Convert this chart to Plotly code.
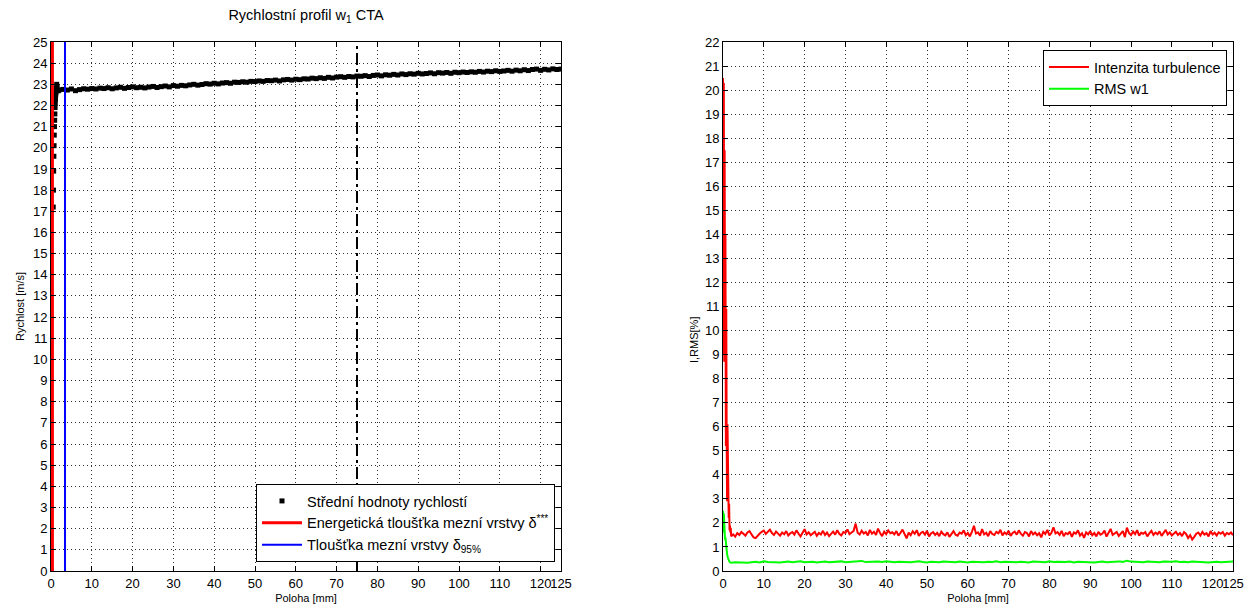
import numpy as np
import plotly.graph_objects as go

# ---------------- velocity profile (left panel) ----------------
# positions close to the wall [mm] and measured mean velocity [m/s]
pos_wall = [0.0, 0.02, 0.55, 0.6, 0.65, 0.7, 0.75, 0.8, 0.85, 0.9, 0.95,
            1.0, 1.05, 1.1, 1.15, 1.2, 1.3, 1.4, 1.5, 1.6, 1.8]
vel_wall = [0.0, 12.0, 17.2, 18.0, 18.9, 19.6, 20.1, 20.6, 21.0, 21.3, 21.6,
            21.9, 22.1, 22.3, 22.5, 22.6, 22.8, 23.0, 22.9, 22.7, 22.7]

# outer region, 1 mm step from 2 mm to 125 mm
pos_outer = np.arange(2, 126, 1)
vel_outer = [
    22.74, 22.76, 22.73, 22.78, 22.70, 22.75, 22.79, 22.77, 22.80, 22.78,
    22.82, 22.80, 22.84, 22.79, 22.83, 22.86, 22.81, 22.85, 22.88, 22.84,
    22.86, 22.83, 22.87, 22.90, 22.85, 22.89, 22.92, 22.88, 22.94, 22.91,
    22.95, 22.93, 22.97, 23.00, 22.96, 22.99, 23.03, 23.01, 23.05, 23.02,
    23.06, 23.08, 23.05, 23.10, 23.09, 23.12, 23.10, 23.14, 23.13, 23.16,
    23.14, 23.18, 23.17, 23.20, 23.16, 23.21, 23.23, 23.20, 23.24, 23.22,
    23.26, 23.25, 23.29, 23.27, 23.31, 23.28, 23.33, 23.30, 23.34, 23.36,
    23.33, 23.37, 23.35, 23.39, 23.38, 23.41, 23.37, 23.42, 23.44, 23.40,
    23.45, 23.43, 23.47, 23.44, 23.49, 23.46, 23.50, 23.48, 23.52, 23.49,
    23.51, 23.54, 23.50, 23.55, 23.53, 23.56, 23.52, 23.57, 23.55, 23.58,
    23.56, 23.59, 23.57, 23.61, 23.58, 23.62, 23.60, 23.64, 23.61, 23.63,
    23.66, 23.62, 23.67, 23.64, 23.69, 23.65, 23.70, 23.72, 23.66, 23.71,
    23.68, 23.73, 23.70, 23.72,
]

delta_energy = 0.35   # energy thickness of the boundary layer [mm]
delta_95 = 3.43       # boundary layer thickness delta_95% [mm]
x_marker = 75.0       # dash-dot reference position [mm]

# ---------------- turbulence (right panel) ----------------
pos_ti_wall = [0.0, 0.1, 0.2, 0.3, 0.4, 0.5, 0.6, 0.7, 0.8, 0.9,
               1.0, 1.1, 1.2, 1.3, 1.4, 1.5, 1.6, 1.7, 1.8, 1.9]
ti_wall = [20.5, 9.0, 20.3, 8.7, 17.5, 10.2, 14.0, 5.2, 10.9, 5.4,
           2.9, 6.1, 3.1, 3.7, 2.2, 2.8, 1.7, 1.9, 1.6, 1.8]

pos_ti_outer = np.arange(2.0, 125.25, 0.5)
ti_outer = [
    1.45, 1.52, 1.43, 1.58, 1.50, 1.62, 1.55, 1.47, 1.60, 1.66, 1.52, 1.40, 1.37, 1.49, 1.56, 1.63, 1.68, 1.54, 1.61, 1.72,
    1.58, 1.50, 1.64, 1.55, 1.47, 1.60, 1.53, 1.66, 1.48, 1.57, 1.62, 1.51, 1.69, 1.56, 1.44, 1.59, 1.74, 1.52, 1.61, 1.49,
    1.55, 1.63, 1.46, 1.58, 1.52, 1.67, 1.50, 1.60, 1.45, 1.57, 1.64, 1.51, 1.70, 1.55, 1.48, 1.62, 1.58, 1.73, 1.53, 1.60,
    1.66, 1.97, 1.59, 1.52, 1.68, 1.56, 1.62, 1.48, 1.71, 1.55, 1.63, 1.50, 1.76, 1.58, 1.45, 1.64, 1.53, 1.69, 1.57, 1.61,
    1.52, 1.66, 1.47, 1.59, 1.72, 1.54, 1.36, 1.60, 1.49, 1.65, 1.55, 1.70, 1.46, 1.58, 1.63, 1.51, 1.67, 1.44, 1.56, 1.62,
    1.50, 1.59, 1.45, 1.64, 1.53, 1.48, 1.61, 1.42, 1.57, 1.66, 1.51, 1.47, 1.60, 1.55, 1.69, 1.49, 1.58, 1.44, 1.63, 1.88,
    1.56, 1.61, 1.47, 1.74, 1.52, 1.59, 1.45, 1.66, 1.54, 1.50, 1.63, 1.57, 1.71, 1.48, 1.60, 1.53, 1.67, 1.46, 1.58, 1.64,
    1.51, 1.69, 1.55, 1.47, 1.62, 1.58, 1.44, 1.66, 1.52, 1.60, 1.49, 1.57, 1.40, 1.63, 1.54, 1.71, 1.48, 1.59, 1.82, 1.56,
    1.62, 1.50, 1.67, 1.45, 1.58, 1.53, 1.64, 1.42, 1.60, 1.55, 1.69, 1.47, 1.57, 1.38, 1.61, 1.52, 1.66, 1.49, 1.58, 1.44,
    1.63, 1.51, 1.56, 1.68, 1.43, 1.60, 1.75, 1.50, 1.57, 1.62, 1.46, 1.54, 1.66, 1.41, 1.80, 1.58, 1.49, 1.64, 1.53, 1.70,
    1.47, 1.59, 1.55, 1.62, 1.44, 1.57, 1.67, 1.50, 1.60, 1.53, 1.65, 1.46, 1.58, 1.71, 1.52, 1.61, 1.48, 1.56, 1.63, 1.50,
    1.58, 1.45, 1.62, 1.54, 1.37, 1.49, 1.31, 1.42, 1.55, 1.60, 1.47, 1.63, 1.51, 1.57, 1.44, 1.66, 1.52, 1.59, 1.48, 1.61,
    1.55, 1.62, 1.47, 1.58, 1.53, 1.60, 1.49,
]

pos_rms_wall = [0.0, 0.1, 0.2, 0.3, 0.4, 0.5, 0.6, 0.7, 0.8, 0.9, 1.0, 1.2, 1.4, 1.6, 1.8]
rms_wall = [2.5, 1.6, 2.4, 1.5, 1.8, 1.3, 1.4, 1.1, 1.0, 0.8, 0.7, 0.55, 0.45, 0.38, 0.36]

pos_rms_outer = np.arange(2, 126, 1)
rms_outer = [
    0.34, 0.36, 0.35, 0.37, 0.34, 0.36, 0.38, 0.35, 0.40, 0.37,
    0.36, 0.38, 0.35, 0.37, 0.39, 0.36, 0.38, 0.40, 0.36, 0.37,
    0.38, 0.35, 0.37, 0.39, 0.36, 0.38, 0.37, 0.40, 0.36, 0.38,
    0.37, 0.39, 0.42, 0.37, 0.38, 0.36, 0.39, 0.37, 0.40, 0.38,
    0.36, 0.38, 0.37, 0.39, 0.36, 0.38, 0.40, 0.37, 0.35, 0.38,
    0.37, 0.36, 0.39, 0.37, 0.38, 0.36, 0.39, 0.37, 0.35, 0.38,
    0.37, 0.39, 0.36, 0.38, 0.37, 0.40, 0.36, 0.38, 0.37, 0.39,
    0.36, 0.38, 0.37, 0.35, 0.39, 0.37, 0.38, 0.36, 0.40, 0.37,
    0.38, 0.36, 0.37, 0.39, 0.35, 0.38, 0.37, 0.36, 0.38, 0.35,
    0.37, 0.39, 0.36, 0.38, 0.37, 0.40, 0.38, 0.43, 0.39, 0.37,
    0.38, 0.36, 0.39, 0.37, 0.38, 0.36, 0.39, 0.37, 0.38, 0.40,
    0.37, 0.38, 0.36, 0.39, 0.37, 0.38, 0.36, 0.35, 0.37, 0.38,
    0.36, 0.38, 0.37, 0.39,
]

x_ticks = [0, 10, 20, 30, 40, 50, 60, 70, 80, 90, 100, 110, 120, 125]
y_ticks_left = list(range(0, 26))
y_ticks_right = list(range(0, 23))

FONT = "Liberation Sans, Arial, Helvetica, sans-serif"
W, H = 1245, 606
TOP, BOTTOM = 42, 35
PLOT_H = H - TOP - BOTTOM


def py(pix):
    """Convert a pixel row to paper y."""
    return (H - BOTTOM - pix) / PLOT_H


fig = go.Figure()

pos_vel = list(pos_wall) + list(pos_outer)
vel = vel_wall + vel_outer
fig.add_trace(go.Scatter(
    x=pos_vel, y=vel, mode="markers",
    marker=dict(symbol="square", size=5, color="#000000", line=dict(width=0)),
    name="Střední hodnoty rychlostí", xaxis="x", yaxis="y", legend="legend"))

fig.add_trace(go.Scatter(
    x=[delta_energy, delta_energy], y=[0, 25], mode="lines",
    line=dict(color="#ff0000", width=3),
    name="Energetická tloušťka mezní vrstvy δ<sup>***</sup>",
    xaxis="x", yaxis="y", legend="legend"))

fig.add_trace(go.Scatter(
    x=[delta_95, delta_95], y=[0, 25], mode="lines",
    line=dict(color="#0000ff", width=2),
    name="Tloušťka mezní vrstvy δ<sub>95%</sub>",
    xaxis="x", yaxis="y", legend="legend"))

fig.add_trace(go.Scatter(
    x=[x_marker, x_marker], y=[0, 25], mode="lines",
    line=dict(color="#000000", width=2, dash="12px,4px,3px,4px"),
    showlegend=False, xaxis="x", yaxis="y"))

fig.add_trace(go.Scatter(
    x=list(pos_ti_wall) + list(pos_ti_outer), y=ti_wall + ti_outer, mode="lines",
    line=dict(color="#ff0000", width=2),
    name="Intenzita turbulence", xaxis="x2", yaxis="y2", legend="legend2"))

fig.add_trace(go.Scatter(
    x=list(pos_rms_wall) + list(pos_rms_outer), y=rms_wall + rms_outer, mode="lines",
    line=dict(color="#00ff00", width=2),
    name="RMS w1", xaxis="x2", yaxis="y2", legend="legend2"))

axis_common = dict(
    showline=True, linecolor="#000000", linewidth=1, mirror="allticks",
    ticks="inside", ticklen=5, tickcolor="#000000", tickwidth=1,
    showgrid=True, gridcolor="#333333", gridwidth=1, griddash="1px,3px",
    zeroline=False, automargin=False,
    tickfont=dict(family=FONT, size=13, color="#000000"),
)
TITLE_FONT = dict(family=FONT, size=11, color="#000000")
LEG_FONT = dict(family=FONT, size=14.5, color="#000000")

fig.update_layout(
    width=W, height=H,
    margin=dict(l=0, r=0, t=TOP, b=BOTTOM, autoexpand=False),
    paper_bgcolor="#ffffff", plot_bgcolor="#ffffff",
    font=dict(family=FONT, size=13, color="#000000"),
    title=dict(text="Rychlostní profil w<sub>1</sub> CTA",
               x=306 / W, xanchor="center", xref="paper",
               y=1 - 15 / H, yanchor="middle", yref="container",
               font=dict(family=FONT, size=14.5, color="#000000")),
    xaxis=dict(domain=[51 / W, 561 / W], range=[0, 125], tickvals=x_ticks,
               tickangle=0, anchor="y",
               title=dict(text="Poloha [mm]", font=TITLE_FONT, standoff=4),
               **axis_common),
    yaxis=dict(domain=[0, 1], range=[0, 25], tickvals=y_ticks_left,
               anchor="x",
               title=dict(text="Rychlost [m/s]", font=TITLE_FONT, standoff=6),
               **axis_common),
    xaxis2=dict(domain=[723 / W, 1233 / W], range=[0, 125], tickvals=x_ticks,
                tickangle=0, anchor="y2",
                title=dict(text="Poloha [mm]", font=TITLE_FONT, standoff=4),
                **axis_common),
    yaxis2=dict(domain=[0, 1], range=[0, 22], tickvals=y_ticks_right,
                anchor="x2", **axis_common),
    legend=dict(
        x=555 / W, xanchor="right", y=py(562), yanchor="bottom",
        bgcolor="#ffffff", bordercolor="#000000", borderwidth=1,
        font=LEG_FONT, tracegroupgap=0, itemwidth=40),
    legend2=dict(
        x=1227 / W, xanchor="right", y=py(50), yanchor="top",
        bgcolor="#ffffff", bordercolor="#000000", borderwidth=1,
        font=LEG_FONT, tracegroupgap=0, itemwidth=40),
    showlegend=True,
)

# y label of the turbulence panel
fig.add_annotation(text="I,RMS[%]", x=694 / W, y=py(340), xref="paper", yref="paper",
                   showarrow=False, xanchor="center", yanchor="middle", textangle=-90,
                   font=TITLE_FONT)

fig.write_html("out.html")
